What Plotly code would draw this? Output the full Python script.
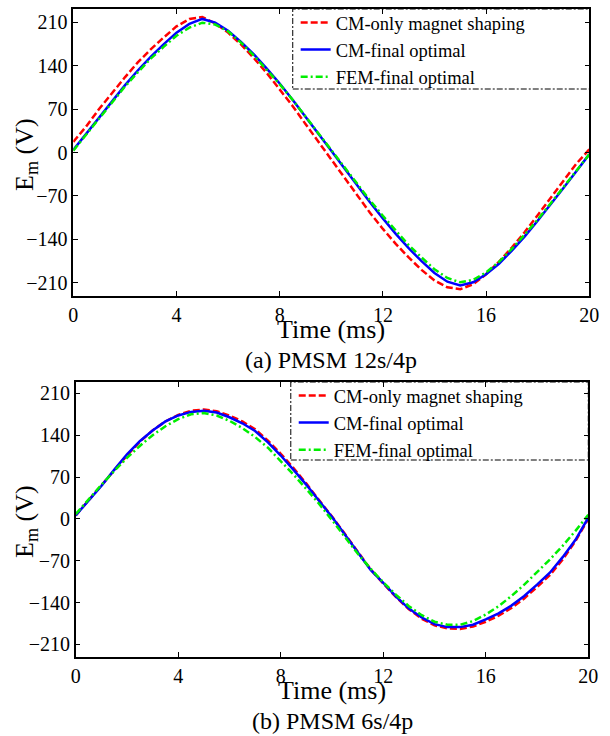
import plotly.graph_objects as go

# time axis (ms)
t = [0, 0.5, 1, 1.5, 2, 2.5, 3, 3.5, 4, 4.5, 5, 5.5, 6, 6.5, 7, 7.5, 8, 8.5, 9, 9.5,
     10, 10.5, 11, 11.5, 12, 12.5, 13, 13.5, 14, 14.5, 15, 15.5, 16, 16.5, 17, 17.5,
     18, 18.5, 19, 19.5, 20]

# (a) PMSM 12s/4p
a_cm_magnet = [17, 42, 70, 96, 121, 145, 166, 185, 203, 215, 218, 208, 193, 174, 152, 128, 102, 75, 46, 17,
               -12, -41, -70, -97, -123, -147, -169, -189, -206, -217, -220, -212, -196, -176, -153, -128,
               -101, -73, -45, -18, 5]
a_cm_final = [4, 30, 57, 83, 108, 132, 154, 174, 193, 207, 215, 209, 196, 178, 158, 135, 111, 85, 58, 31,
              3, -25, -53, -80, -106, -131, -154, -175, -194, -208, -214, -209, -196, -179, -158, -135,
              -110, -84, -57, -30, -3]
a_fem_final = [3, 29, 55, 81, 106, 129, 151, 170, 188, 201, 209, 206, 195, 177, 156, 133, 110, 85, 58, 31,
               4, -23, -50, -77, -102, -126, -149, -169, -188, -202, -209, -205, -193, -176, -155, -132,
               -108, -82, -56, -30, -3]

# (b) PMSM 6s/4p
b_cm_magnet = [6, 31, 55, 81, 106, 129, 148, 163, 174, 181, 183, 180, 173, 163, 150, 131, 109, 85, 59, 31,
               4, -25, -55, -84, -108, -131, -151, -167, -178, -183, -184, -180, -172, -162, -149, -133,
               -114, -94, -68, -37, 0]
b_cm_final = [6, 31, 55, 82, 108, 130, 148, 163, 173, 179, 181, 178, 170, 160, 147, 128, 106, 82, 57, 30,
              3, -26, -56, -85, -107, -130, -150, -165, -176, -181, -181, -177, -168, -158, -145, -129,
              -110, -90, -64, -35, 2]
b_fem_final = [8, 33, 57, 80, 102, 122, 140, 155, 167, 175, 177, 173, 164, 152, 137, 119, 97, 74, 50, 25,
               -2, -30, -58, -83, -106, -127, -146, -161, -172, -177, -177, -171, -160, -146, -129, -110,
               -89, -68, -45, -20, 7]

names = ["CM-only magnet shaping", "CM-final optimal", "FEM-final optimal"]
x_ticks = [0, 4, 8, 12, 16, 20]
y_ticks = [-210, -140, -70, 0, 70, 140, 210]
captions = ["(a) PMSM 12s/4p", "(b) PMSM 6s/4p"]

W, H = 610, 736
FONT = "Liberation Serif, Times New Roman, serif"
colors = ["#FF0000", "#0000FF", "#00EE00"]
dashes = ["7px,3px", "solid", "7px,3px,2px,3px"]

fig = go.Figure()

series = [(a_cm_magnet, a_cm_final, a_fem_final), (b_cm_magnet, b_cm_final, b_fem_final)]
for k, grp in enumerate(series):
    xa = "x" if k == 0 else "x2"
    ya = "y" if k == 0 else "y2"
    lg = "legend" if k == 0 else "legend2"
    for i, ys in enumerate(grp):
        fig.add_trace(go.Scatter(x=t, y=ys, mode="lines", name=names[i],
                                 line=dict(color=colors[i], width=2.5, dash=dashes[i]),
                                 xaxis=xa, yaxis=ya, legend=lg))

def px_x(p):
    return p / W

def px_y(p):
    return 1 - p / H

# axis boxes in pixels: (left, top, right, bottom)
boxes = [(70, 9, 599, 296), (72.5, 382, 598, 657)]
yranges = [[-231, 231], [-231, 229]]

axis_common = dict(showline=True, mirror="ticks", linecolor="black", linewidth=1.5,
                   ticks="inside", ticklen=5, tickcolor="black", tickwidth=1,
                   showgrid=False, zeroline=False,
                   tickfont=dict(family=FONT, size=20, color="black"))

for k, (l, tp, r, b) in enumerate(boxes):
    xn = "xaxis" if k == 0 else "xaxis2"
    yn = "yaxis" if k == 0 else "yaxis2"
    fig.update_layout(**{
        xn: dict(domain=[px_x(l), px_x(r)], range=[0, 20], tickvals=x_ticks,
                 anchor="y" if k == 0 else "y2", **axis_common),
        yn: dict(domain=[px_y(b), px_y(tp)], range=yranges[k], tickvals=y_ticks,
                 anchor="x" if k == 0 else "x2", **axis_common),
    })

# legends and their dash-dot frames
leg_boxes = [(295, 9, 600, 89), (293, 382, 598, 460)]
for k, (l, tp, r, b) in enumerate(leg_boxes):
    ln = "legend" if k == 0 else "legend2"
    fig.update_layout(**{ln: dict(x=px_x(l + 3), y=px_y(tp - 5), xanchor="left", yanchor="top",
                                  bgcolor="rgba(255,255,255,0)", borderwidth=0,
                                  font=dict(family=FONT, size=18.5, color="black"),
                                  tracegroupgap=0, itemwidth=30)})
    fig.add_shape(type="rect", xref="paper", yref="paper",
                  x0=px_x(l), x1=px_x(r), y0=px_y(b), y1=px_y(tp),
                  line=dict(color="black", width=1, dash="6px,2px,2px,2px"), fillcolor="rgba(0,0,0,0)")

annotations = []
for k, (l, tp, r, b) in enumerate(boxes):
    cx = (l + r) / 2
    annotations.append(dict(text="Time (ms)", x=px_x(cx), y=px_y(b + 33), xref="paper", yref="paper",
                            showarrow=False, xanchor="center", yanchor="middle",
                            font=dict(family=FONT, size=26, color="black")))
    annotations.append(dict(text=captions[k], x=px_x(cx), y=px_y(b + 64), xref="paper", yref="paper",
                            showarrow=False, xanchor="center", yanchor="middle",
                            font=dict(family=FONT, size=24, color="black")))
    annotations.append(dict(text="E<sub>m</sub> (V)", x=px_x(21), y=px_y((tp + b) / 2 + 2), xref="paper",
                            yref="paper", showarrow=False, xanchor="center", yanchor="middle",
                            textangle=-90, font=dict(family=FONT, size=26, color="black")))

fig.update_layout(width=W, height=H, margin=dict(l=0, r=0, t=0, b=0),
                  paper_bgcolor="white", plot_bgcolor="white",
                  annotations=annotations, showlegend=True)

fig.write_html("out.html", config={"displayModeBar": False},
               post_script="document.body.style.margin='0';document.body.style.overflow='hidden';")
